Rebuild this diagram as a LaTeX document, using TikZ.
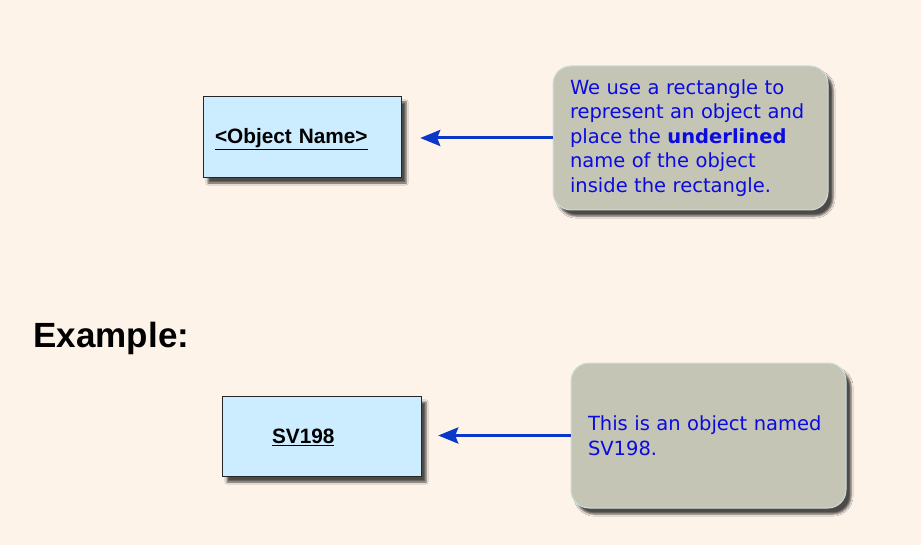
\documentclass[tikz,border=0pt]{standalone}
\usepackage{fontspec}
\setmainfont{Liberation Sans}
\newfontfamily\notefont{DejaVu Sans}
\usetikzlibrary{positioning,arrows.meta,shadows.blur}
\tikzset{objbox/.style={draw=black!85, fill=boxblue, minimum width=198pt, minimum height=81pt, align=left, blur shadow={shadow xshift=5pt, shadow yshift=-6pt, shadow opacity=70}, font=\fontsize{20.8}{24}\selectfont\bfseries}, note/.style={draw=noteedge, line width=1pt, fill=notegray, rounded corners=18pt, minimum width=275pt, minimum height=144pt, align=left, text width=241pt, text=noteblue, blur shadow={shadow xshift=5pt, shadow yshift=-6pt, shadow opacity=70}, font=\notefont\fontsize{19.5}{24.5}\selectfont}, pointer/.style={draw=arrowblue, line width=3pt, -{Stealth[length=20pt, width=16pt, inset=3pt]}}}

\begin{document}
\begin{tikzpicture}[x=1pt, y=-1pt]

	\definecolor{bgpeach}{RGB}{253,243,233}
	\definecolor{boxblue}{RGB}{204,236,255}
	\definecolor{notegray}{RGB}{196,197,181}
	\definecolor{noteedge}{RGB}{205,220,225}
	\definecolor{noteblue}{RGB}{10,10,225}
	\definecolor{arrowblue}{RGB}{10,55,200}

	% background
	\fill [bgpeach] (0,0) rectangle (921,545);

	% object box and its note
	\node (obj) [objbox, text width=174pt, text height=20pt] at (302,136.5) {\underline{<Object Name>}};
	\node (note) [note] at (690.5,138) {We use a rectangle to\\represent an object and\\place the \textbf{underlined}\\name of the object\\inside the rectangle.};
	\draw [pointer, shorten >=19pt] (note.west) -- (note.west -| obj.east);

	% example
	\node (ex) [anchor=west, font=\fontsize{35}{40}\selectfont\bfseries] at (30,338) {Example:};

	\node (sv) [objbox, minimum height=80pt, inner xsep=50pt, text width=99pt, text height=18pt] at (321.5,436) {\underline{SV198}};
	\node (svnote) [note, minimum height=145pt] at (708.5,435.5) {This is an object named\\SV198.};
	\draw [pointer, shorten >=17pt] (svnote.west) -- (svnote.west -| sv.east);

\end{tikzpicture}
\end{document}
